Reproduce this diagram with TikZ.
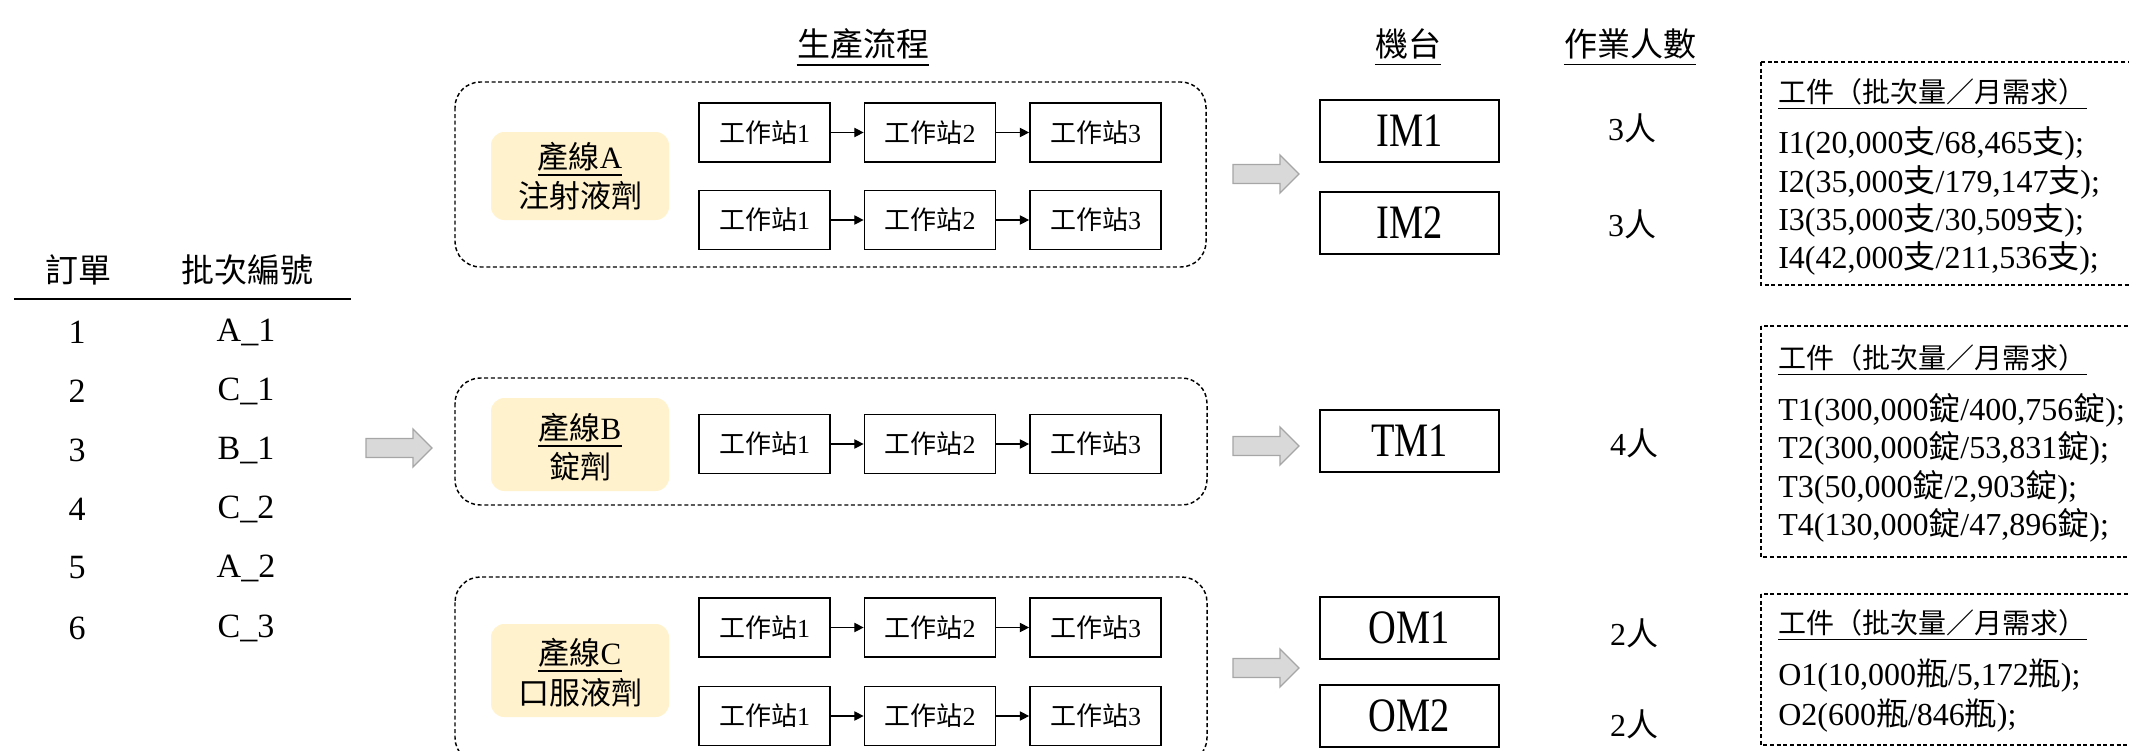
\documentclass[tikz,border=0pt]{standalone}
\usepackage{fontspec}
\setmainfont{Liberation Serif}
\newfontfamily\cjk{Noto Sans CJK TC}
\newfontfamily\cond[FakeStretch=0.8]{Liberation Serif}
\usetikzlibrary{arrows.meta,calc}
\definecolor{cream}{HTML}{FFF2CC}
\definecolor{arrowfill}{HTML}{D9D9D9}
\definecolor{arrowdraw}{HTML}{A6A6A6}
\newcommand\fsz[1]{\fontsize{#1}{#1}\selectfont}
\newcommand\grayarrow[2]{%
  \draw[bigarrow] (#1,#2-9.5) -- (#1+47,#2-9.5) -- (#1+47,#2-19) -- (#1+66,#2)
    -- (#1+47,#2+19) -- (#1+47,#2+9.5) -- (#1,#2+9.5) -- cycle;}
\tikzset{
  station/.style={draw, line width=1.3pt, minimum width=98.25pt, minimum height=44.25pt, inner sep=0pt, font=\fsz{19.5pt}},
  machine/.style={draw, line width=1.3pt, minimum width=134.25pt, minimum height=46.5pt, inner sep=0pt, font=\cond\fsz{36pt}},
  lineframe/.style={dash pattern=on 3pt off 2pt, line width=1.1pt, rounded corners=19pt},
  partframe/.style={dash pattern=on 3pt off 2pt, line width=0.9pt},
  creambox/.style={fill=cream, rounded corners=10pt},
  txt/.style={inner sep=0pt},
  flow/.style={line width=0.9pt, -{Triangle[length=7pt,width=7pt]}},
  ul/.style={line width=1.2pt},
  bigarrow/.style={fill=arrowfill, draw=arrowdraw, line width=1pt},
}
\begin{document}
\begin{tikzpicture}[x=0.75pt,y=-0.75pt]
\useasboundingbox (0,0) rectangle (2129,750);
\clip (0,0) rectangle (2129,750);

% ---------- left table ----------
\node[txt] (h1) at (78,270) {\fsz{24.75pt}\cjk 訂單};
\node[txt] (h2) at (247,270) {\fsz{24.75pt}\cjk 批次編號};
\coordinate (r1) at (14,299);
\coordinate (r2) at (351,299);
\draw[line width=1.2pt] (r1) -- (r2);
\foreach \n/\b/\y in {1/A\_1/332, 2/C\_1/391, 3/B\_1/450, 4/C\_2/509, 5/A\_2/568, 6/C\_3/628}{
  \node[txt] (n\n) at (77,\y) {\fsz{25.5pt}\n};
  \node[txt] (b\n) at (246,\y) {\fsz{25.5pt}\b};
}
\grayarrow{366}{448}

% ---------- headings ----------
\node[txt] (ttl) at (863,44) {\fsz{24.75pt}\cjk 生產流程};
\draw[ul] ($(ttl.south west)+(0,5)$) -- ($(ttl.south east)+(0,5)$);
\node[txt] (mt) at (1408,44) {\fsz{24.75pt}\cjk 機台};
\draw[ul] ($(mt.south west)+(0,5)$) -- ($(mt.south east)+(0,5)$);
\node[txt] (wt) at (1630,44) {\fsz{24.75pt}\cjk 作業人數};
\draw[ul] ($(wt.south west)+(0,5)$) -- ($(wt.south east)+(0,5)$);

% ---------- line frames ----------
\draw[lineframe] (455,82) rectangle (1206,267);
\draw[lineframe] (455,378) rectangle (1207,505);
\draw[lineframe] (455,577) rectangle (1207,763);

% cream labels
\fill[creambox] (491,132) rectangle (669,220);
\fill[creambox] (491,398) rectangle (669,491);
\fill[creambox] (491,624) rectangle (669,717);

\node[txt] (la1) at (580,157) {\fsz{23.25pt}{\cjk 產線}A};
\draw[ul] ($(la1.south west)+(0,3)$) -- ($(la1.south east)+(0,3)$);
\node[txt] (la2) at (580,196) {\fsz{23.25pt}\cjk 注射液劑};
\node[txt] (lb1) at (580,428) {\fsz{23.25pt}{\cjk 產線}B};
\draw[ul] ($(lb1.south west)+(0,3)$) -- ($(lb1.south east)+(0,3)$);
\node[txt] (lb2) at (580,467) {\fsz{23.25pt}\cjk 錠劑};
\node[txt] (lc1) at (580,653) {\fsz{23.25pt}{\cjk 產線}C};
\draw[ul] ($(lc1.south west)+(0,3)$) -- ($(lc1.south east)+(0,3)$);
\node[txt] (lc2) at (580,693) {\fsz{23.25pt}\cjk 口服液劑};

% stations
\foreach \r/\y in {a/132.5, b/220, c/444, d/627.5, e/716}{
  \node[station] (\r1) at (764.5,\y) {{\cjk 工作站}1};
  \node[station] (\r2) at (930,\y) {{\cjk 工作站}2};
  \node[station] (\r3) at (1095.5,\y) {{\cjk 工作站}3};
  \draw[flow] (\r1.east) -- (\r2.west);
  \draw[flow] (\r2.east) -- (\r3.west);
}

% gray arrows
\grayarrow{1233}{174}
\grayarrow{1233}{446}
\grayarrow{1233}{668}

% machines
\node[machine] (im1) at (1409.5,131) {IM1};
\node[machine] (im2) at (1409.5,223) {IM2};
\node[machine] (tm1) at (1409.5,441) {TM1};
\node[machine] (om1) at (1409.5,628) {OM1};
\node[machine] (om2) at (1409.5,716) {OM2};

% workers
\node[txt] (w1) at (1632,128) {\fsz{24pt}3{\cjk 人}};
\node[txt] (w2) at (1632,224) {\fsz{24pt}3{\cjk 人}};
\node[txt] (w3) at (1634,443) {\fsz{24pt}4{\cjk 人}};
\node[txt] (w4) at (1634,633) {\fsz{24pt}2{\cjk 人}};
\node[txt] (w5) at (1634,724) {\fsz{24pt}2{\cjk 人}};

% ---------- part boxes ----------
\draw[partframe] (1761,62) rectangle (2160,285);
\draw[partframe] (1761,326) rectangle (2160,557);
\draw[partframe] (1761,594) rectangle (2160,745);

\node[txt, anchor=west] (it) at (1778,92) {\fsz{21pt}\cjk 工件（批次量／月需求）};
\draw[ul] ($(it.south west)+(0,3)$) -- ($(it.south east)+(0,3)$);
\node[txt, anchor=west] (i1) at (1778,143) {\fsz{24pt}I1(20,000{\cjk 支}/68,465{\cjk 支});};
\node[txt, anchor=west] (i2) at (1778,182) {\fsz{24pt}I2(35,000{\cjk 支}/179,147{\cjk 支});};
\node[txt, anchor=west] (i3) at (1778,220) {\fsz{24pt}I3(35,000{\cjk 支}/30,509{\cjk 支});};
\node[txt, anchor=west] (i4) at (1778,258) {\fsz{24pt}I4(42,000{\cjk 支}/211,536{\cjk 支});};

\node[txt, anchor=west] (tt) at (1778,358) {\fsz{21pt}\cjk 工件（批次量／月需求）};
\draw[ul] ($(tt.south west)+(0,3)$) -- ($(tt.south east)+(0,3)$);
\node[txt, anchor=west] (t1) at (1778,410) {\fsz{24pt}T1(300,000{\cjk 錠}/400,756{\cjk 錠});};
\node[txt, anchor=west] (t2) at (1778,448) {\fsz{24pt}T2(300,000{\cjk 錠}/53,831{\cjk 錠});};
\node[txt, anchor=west] (t3) at (1778,487) {\fsz{24pt}T3(50,000{\cjk 錠}/2,903{\cjk 錠});};
\node[txt, anchor=west] (t4) at (1778,525) {\fsz{24pt}T4(130,000{\cjk 錠}/47,896{\cjk 錠});};

\node[txt, anchor=west] (ot) at (1778,623) {\fsz{21pt}\cjk 工件（批次量／月需求）};
\draw[ul] ($(ot.south west)+(0,3)$) -- ($(ot.south east)+(0,3)$);
\node[txt, anchor=west] (o1) at (1778,675) {\fsz{24pt}O1(10,000{\cjk 瓶}/5,172{\cjk 瓶});};
\node[txt, anchor=west] (o2) at (1778,715) {\fsz{24pt}O2(600{\cjk 瓶}/846{\cjk 瓶});};
\end{tikzpicture}
\end{document}
